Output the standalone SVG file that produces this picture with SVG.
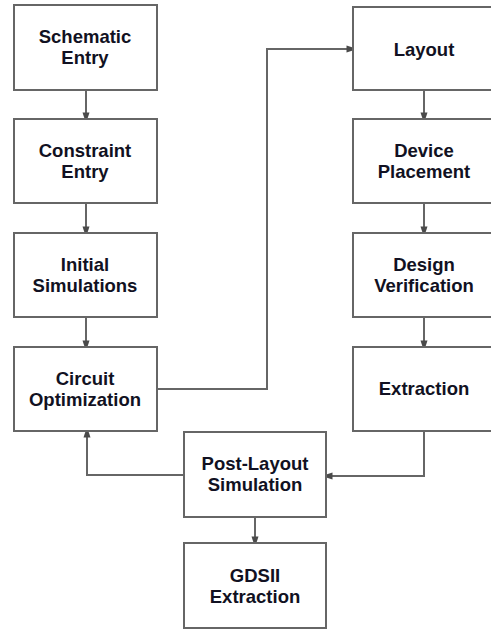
<svg xmlns="http://www.w3.org/2000/svg" width="491" height="629" viewBox="0 0 491 629">
  <style>
    .box { fill: #ffffff; stroke: #666666; stroke-width: 2; }
    .lbl { font-family: "Liberation Sans", Arial, sans-serif; font-weight: bold; font-size: 18.5px; fill: #111122; text-anchor: middle; }
    .wire { fill: none; stroke: #666666; stroke-width: 2; }
  </style>
  <defs>
    <!-- stubby blunt arrowhead -->
    <marker id="arrow" markerWidth="8" markerHeight="8" refX="6" refY="4" orient="auto" markerUnits="userSpaceOnUse">
      <path d="M0.5,0.5 L6,2.3 L6,5.7 L0.5,7.5 Z" fill="#4a4a4a"/>
    </marker>
  </defs>
  <rect width="491" height="629" fill="#ffffff"/>

  <!-- connectors -->
  <g id="connectors">
    <path class="wire" d="M86,90 V118" marker-end="url(#arrow)"/>
    <path class="wire" d="M86,203 V232" marker-end="url(#arrow)"/>
    <path class="wire" d="M86,317 V346" marker-end="url(#arrow)"/>
    <path class="wire" d="M157,389 H267 V49 H352" marker-end="url(#arrow)"/>
    <path class="wire" d="M424,90 V118" marker-end="url(#arrow)"/>
    <path class="wire" d="M424,203 V232" marker-end="url(#arrow)"/>
    <path class="wire" d="M424,317 V346" marker-end="url(#arrow)"/>
    <path class="wire" d="M424,431 V476 H327" marker-end="url(#arrow)"/>
    <path class="wire" d="M184,475 H87 V432" marker-end="url(#arrow)"/>
    <path class="wire" d="M255,517 V542" marker-end="url(#arrow)"/>
  </g>

  <!-- left column -->
  <g id="schematic-entry">
    <rect class="box" x="14" y="5" width="143" height="85"/>
    <text class="lbl" x="85" y="43">Schematic</text>
    <text class="lbl" x="85" y="64">Entry</text>
  </g>
  <g id="constraint-entry">
    <rect class="box" x="14" y="119" width="143" height="84"/>
    <text class="lbl" x="85" y="157">Constraint</text>
    <text class="lbl" x="85" y="178">Entry</text>
  </g>
  <g id="initial-simulations">
    <rect class="box" x="14" y="233" width="143" height="84"/>
    <text class="lbl" x="85" y="271">Initial</text>
    <text class="lbl" x="85" y="292">Simulations</text>
  </g>
  <g id="circuit-optimization">
    <rect class="box" x="14" y="347" width="143" height="84"/>
    <text class="lbl" x="85" y="385">Circuit</text>
    <text class="lbl" x="85" y="406">Optimization</text>
  </g>

  <!-- right column -->
  <g id="layout">
    <rect class="box" x="353" y="7" width="143" height="83"/>
    <text class="lbl" x="424" y="56">Layout</text>
  </g>
  <g id="device-placement">
    <rect class="box" x="353" y="119" width="143" height="84"/>
    <text class="lbl" x="424" y="157">Device</text>
    <text class="lbl" x="424" y="178">Placement</text>
  </g>
  <g id="design-verification">
    <rect class="box" x="353" y="233" width="143" height="84"/>
    <text class="lbl" x="424" y="271">Design</text>
    <text class="lbl" x="424" y="292">Verification</text>
  </g>
  <g id="extraction">
    <rect class="box" x="353" y="347" width="143" height="84"/>
    <text class="lbl" x="424" y="395">Extraction</text>
  </g>

  <!-- bottom row -->
  <g id="post-layout-simulation">
    <rect class="box" x="184" y="432" width="142" height="85"/>
    <text class="lbl" x="255" y="470">Post-Layout</text>
    <text class="lbl" x="255" y="491">Simulation</text>
  </g>
  <g id="gdsii-extraction">
    <rect class="box" x="184" y="543" width="142" height="85"/>
    <text class="lbl" x="255" y="582">GDSII</text>
    <text class="lbl" x="255" y="603">Extraction</text>
  </g>
</svg>
